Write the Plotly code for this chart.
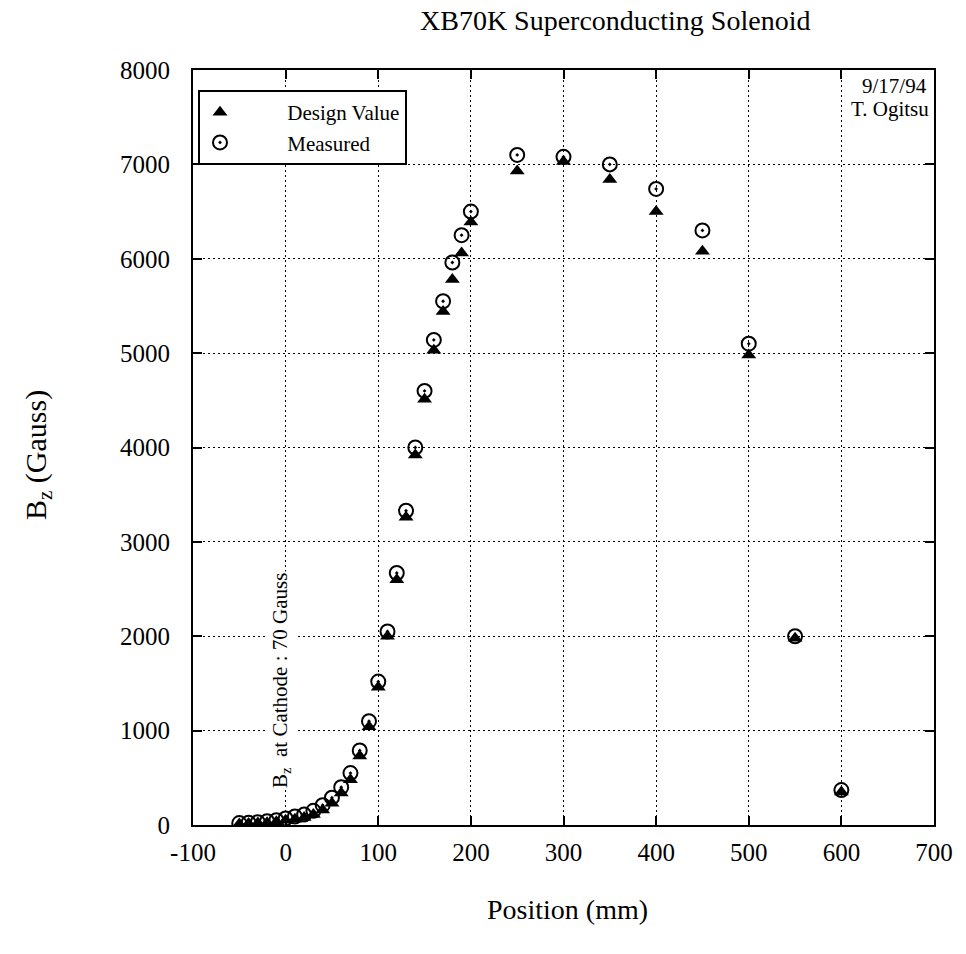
import plotly.graph_objects as go

# Axial field profile of the XB70K solenoid
position_mm = [-50, -40, -30, -20, -10, 0, 10, 20, 30, 40, 50, 60, 70, 80, 90,
               100, 110, 120, 130, 140, 150, 160, 170, 180, 190, 200,
               250, 300, 350, 400, 450, 500, 550, 600]
design_gauss = [10, 15, 20, 25, 35, 50, 60, 80, 110, 160, 230, 340, 480, 730, 1040,
                1460, 2000, 2600, 3260, 3920, 4510, 5030, 5440, 5780, 6060, 6390,
                6930, 7030, 6840, 6500, 6080, 4980, 1980, 350]
measured_gauss = [20, 25, 30, 40, 50, 70, 90, 110, 150, 210, 290, 400, 550, 790, 1100,
                  1520, 2050, 2670, 3330, 4000, 4600, 5140, 5550, 5960, 6250, 6500,
                  7100, 7080, 7000, 6740, 6300, 5100, 2000, 370]

x_ticks = [-100, 0, 100, 200, 300, 400, 500, 600, 700]
y_ticks = [0, 1000, 2000, 3000, 4000, 5000, 6000, 7000, 8000]

SERIF = "Liberation Serif, Times New Roman, serif"
W, H = 966, 954
L, R, T, B = 193, 32, 70, 129
PW, PH = W - L - R, H - T - B


def px(xp):
    return (xp - L) / PW


def py(yp):
    return (H - B - yp) / PH


PAD = "&nbsp;" * 9

fig = go.Figure()
fig.add_trace(go.Scatter(
    x=position_mm, y=design_gauss, mode="markers", name=PAD + "Design Value",
    marker=dict(symbol="triangle-up", size=13, color="black"),
))
fig.add_trace(go.Scatter(
    x=position_mm, y=measured_gauss, mode="markers", name=PAD + "Measured",
    marker=dict(symbol="circle-open-dot", size=14, color="black",
                line=dict(width=2, color="black")),
))

axis_common = dict(
    showline=True, linecolor="black", linewidth=2, mirror="ticks",
    ticks="inside", ticklen=9, tickwidth=2, tickcolor="black",
    showgrid=True, gridcolor="black", gridwidth=1.4, griddash="1.5px,3.5px",
    zeroline=False, tickfont=dict(family=SERIF, size=25, color="black"),
)
fig.update_xaxes(range=[-100, 700], tickvals=x_ticks,
                 ticktext=[str(v) for v in x_ticks], ticklabelstandoff=4,
                 **axis_common)
fig.update_yaxes(range=[0, 8000], tickvals=y_ticks,
                 ticktext=[str(v) for v in y_ticks], ticklabelstandoff=16,
                 **axis_common)

annotations = [
    dict(text="XB70K Superconducting Solenoid", x=px(615), y=py(20),
         font=dict(size=28)),
    dict(text="Position (mm)", x=px(567), y=py(910), font=dict(size=28)),
    dict(text="B<sub>z</sub> (Gauss)", x=px(38), y=py(455), textangle=-90,
         font=dict(size=30)),
    dict(text="9/17/94", x=px(929), y=py(86), xanchor="right",
         font=dict(size=21)),
    dict(text="T. Ogitsu", x=px(931), y=py(109), xanchor="right",
         font=dict(size=21)),
    dict(text="B<sub>z</sub>  at Cathode : 70 Gauss", x=px(281), y=py(681),
         textangle=-90, font=dict(size=21), bgcolor="white"),
]
for a in annotations:
    a.setdefault("xanchor", "center")
    a.setdefault("yanchor", "middle")
    a["font"] = dict(family=SERIF, color="black", **a["font"])
    fig.add_annotation(xref="paper", yref="paper", showarrow=False, **a)

fig.update_layout(
    width=W, height=H,
    margin=dict(l=L, r=R, t=T, b=B),
    paper_bgcolor="white", plot_bgcolor="white",
    showlegend=True,
    legend=dict(x=px(198), y=py(90), xanchor="left", yanchor="top",
                bgcolor="white", bordercolor="black", borderwidth=2,
                font=dict(family=SERIF, size=21, color="black"),
                itemwidth=30, tracegroupgap=0),
)

fig.write_html("out.html")
